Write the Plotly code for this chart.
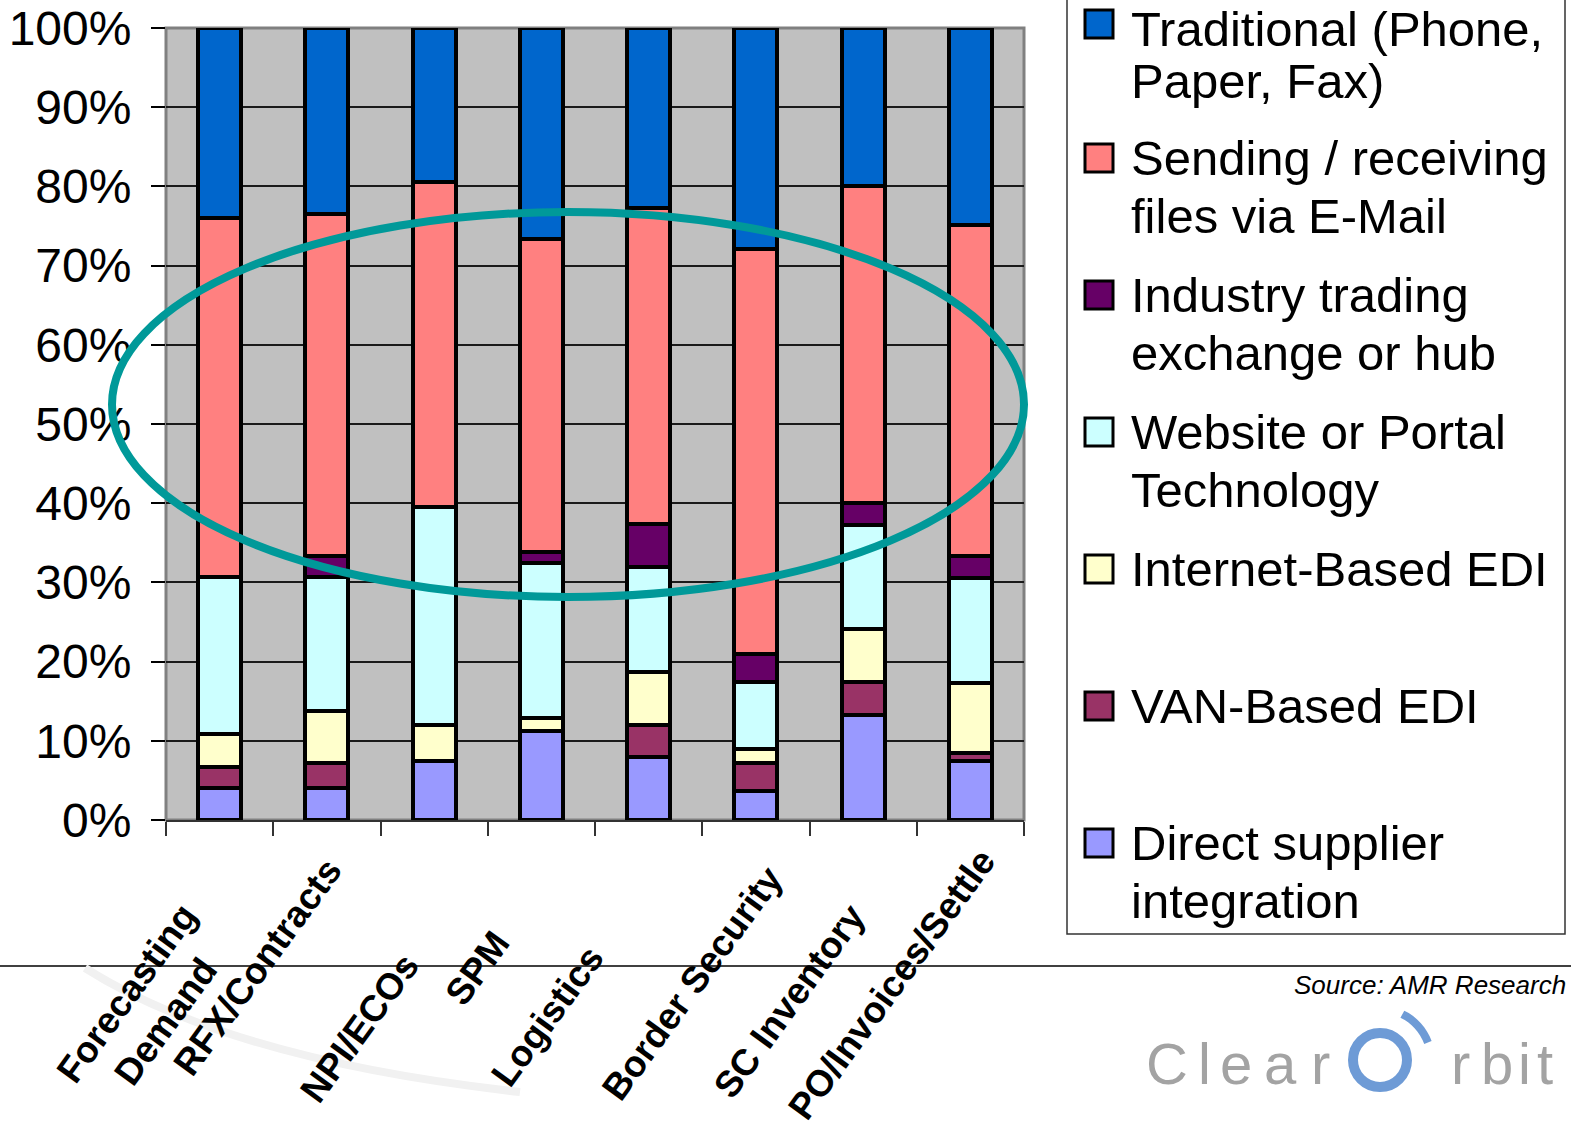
import math
import plotly.graph_objects as go

# ---------------- data ----------------
categories = ["Forecasting Demand", "RFX/Contracts", "NPI/ECOs", "SPM", "Logistics",
              "Border Security", "SC Inventory", "PO/Invoices/Settle"]
category_labels = ["Forecasting<br>Demand", "RFX/Contracts", "NPI/ECOs", "SPM", "Logistics",
                   "Border Security", "SC Inventory", "PO/Invoices/Settle"]

direct_supplier = [4.0, 4.0, 7.5, 11.2, 7.9, 3.6, 13.3, 7.5]
van_edi = [2.7, 3.2, 0.0, 0.0, 4.1, 3.6, 4.1, 0.9]
internet_edi = [4.1, 6.6, 4.5, 1.7, 6.7, 1.8, 6.7, 8.9]
website_portal = [19.9, 16.9, 27.5, 19.5, 13.3, 8.4, 13.2, 13.3]
industry_hub = [0.0, 2.6, 0.0, 1.5, 5.4, 3.6, 2.7, 2.7]
email_files = [45.3, 43.2, 41.0, 39.4, 39.9, 51.1, 40.0, 41.8]
traditional = [24.0, 23.5, 19.5, 26.7, 22.7, 27.9, 20.0, 24.9]

# legend order (top to bottom), each name split into its display lines
legend_lines = [
    ["Traditional (Phone,", "Paper, Fax)"],
    ["Sending / receiving", "files via E-Mail"],
    ["Industry trading", "exchange or hub"],
    ["Website or Portal", "Technology"],
    ["Internet-Based EDI"],
    ["VAN-Based EDI"],
    ["Direct supplier", "integration"],
]
legend_colors = ["#0066CC", "#FF8080", "#660066", "#CCFFFF", "#FFFFCC", "#993366", "#9999FF"]

y_tick_values = [0, 10, 20, 30, 40, 50, 60, 70, 80, 90, 100]
y_tick_labels = ["0%", "10%", "20%", "30%", "40%", "50%", "60%", "70%", "80%", "90%", "100%"]

source_text = "Source: AMR Research"
logo_letters = ["C", "l", "e", "a", "r", "r", "b", "i", "t"]

# ---------------- layout helpers ----------------
W, H = 1571, 1129
L, R, T, B = 166, 1024, 28, 820
FONT = "Liberation Sans, Arial, sans-serif"


def px(xp):
    return (xp - L) / (R - L)


def py(yp):
    return (B - yp) / (B - T)


# stacking order bottom -> top
stack = [
    (legend_lines[6], direct_supplier, legend_colors[6]),
    (legend_lines[5], van_edi, legend_colors[5]),
    (legend_lines[4], internet_edi, legend_colors[4]),
    (legend_lines[3], website_portal, legend_colors[3]),
    (legend_lines[2], industry_hub, legend_colors[2]),
    (legend_lines[1], email_files, legend_colors[1]),
    (legend_lines[0], traditional, legend_colors[0]),
]

fig = go.Figure()
for name_lines, vals, col in stack:
    fig.add_trace(go.Bar(
        x=categories, y=vals, name=" ".join(name_lines),
        marker=dict(color=col, line=dict(color="black", width=4)),
        width=0.40, showlegend=False,
    ))

shapes = []
annotations = []

# plot border (gray)
shapes.append(dict(type="rect", xref="paper", yref="paper", x0=0, x1=1, y0=0, y1=1,
                   line=dict(color="#808080", width=3), layer="below"))

# horizontal separator line across page
shapes.append(dict(type="line", xref="paper", yref="paper", x0=px(0), x1=px(W),
                   y0=py(966), y1=py(966), line=dict(color="#404040", width=2), layer="below"))

# faint watermark swoosh
shapes.append(dict(type="path", xref="paper", yref="paper",
                   path=f"M{px(85)},{py(968)} Q{px(230)},{py(1060)} {px(520)},{py(1092)}",
                   line=dict(color="#f1f1f1", width=8), layer="below"))

# teal ellipse highlight
shapes.append(dict(type="circle", xref="paper", yref="paper",
                   x0=px(112), x1=px(1024), y0=py(597), y1=py(212),
                   line=dict(color="#009999", width=8), layer="above"))

# legend box
shapes.append(dict(type="rect", xref="paper", yref="paper",
                   x0=px(1067), x1=px(1565), y0=py(934), y1=py(-10),
                   line=dict(color="#333333", width=1.5), fillcolor="white", layer="below"))

for i, (lines, col) in enumerate(zip(legend_lines, legend_colors)):
    cy = 21 + 137 * i
    my = cy + (3 if i == 0 else 0)
    shapes.append(dict(type="rect", xref="paper", yref="paper",
                       x0=px(1085), x1=px(1113), y0=py(my + 14), y1=py(my - 14),
                       line=dict(color="black", width=3), fillcolor=col, layer="above"))
    for j, ln in enumerate(lines):
        ty = cy + 58 * j
        if i == 0:
            ty = [29, 81][j]  # keep the topmost line fully inside the page
        annotations.append(dict(text=ln, xref="paper", yref="paper", x=px(1129), y=py(ty),
                                xanchor="left", yanchor="middle", showarrow=False,
                                font=dict(family=FONT, size=49, color="black")))

# category labels (rotated)
label_centers = [(146, 1007), (257, 967), (359, 1028), (477, 968), (547, 1016),
                 (692, 983), (789, 1001), (892, 985)]
for lab, (cx, cy) in zip(category_labels, label_centers):
    annotations.append(dict(text=f"<b>{lab}</b>", xref="paper", yref="paper", x=px(cx), y=py(cy),
                            xanchor="center", yanchor="middle", showarrow=False, textangle=-54,
                            align="center", font=dict(family=FONT, size=37, color="black")))

# source
annotations.append(dict(text=f"<i>{source_text}</i>", xref="paper", yref="paper", x=px(1568), y=py(985),
                        xanchor="right", yanchor="middle", showarrow=False,
                        font=dict(family=FONT, size=26, color="black")))

# logo letters
letter_x = [1167, 1204, 1236, 1280, 1320, 1460, 1497, 1524, 1545]
for ch, lx in zip(logo_letters, letter_x):
    annotations.append(dict(text=ch, xref="paper", yref="paper", x=px(lx), y=py(1063),
                            xanchor="center", yanchor="middle", showarrow=False,
                            font=dict(family=FONT, size=58, color="#a3a3a3")))
ring_cx, ring_cy, ring_r = 1380, 1060, 27
shapes.append(dict(type="circle", xref="paper", yref="paper",
                   x0=px(ring_cx - ring_r), x1=px(ring_cx + ring_r),
                   y0=py(ring_cy + ring_r), y1=py(ring_cy - ring_r),
                   line=dict(color="#6e9bd6", width=10)))
pts = []
for k in range(9):
    a = math.radians(-64 + k * 5.5)
    pts.append((ring_cx + 51 * math.cos(a), ring_cy + 51 * math.sin(a)))
path = "M" + " L".join(f"{px(x)},{py(y)}" for x, y in pts)
shapes.append(dict(type="path", xref="paper", yref="paper", path=path,
                   line=dict(color="#6e9bd6", width=8)))

fig.update_layout(
    width=W, height=H, autosize=False,
    margin=dict(l=L, r=W - R, t=T, b=H - B, pad=0, autoexpand=False),
    paper_bgcolor="white", plot_bgcolor="#C0C0C0",
    barmode="stack", showlegend=False,
    shapes=shapes, annotations=annotations,
    font=dict(family=FONT, color="black"),
    xaxis=dict(type="category", range=[-0.5, 7.5], tickson="boundaries", ticks="outside",
               ticklen=14, tickwidth=1.5, tickcolor="#333333", showticklabels=False,
               showline=True, linecolor="#333333", linewidth=2, showgrid=False, zeroline=False,
               automargin=False),
    yaxis=dict(range=[0, 100], tickvals=y_tick_values, ticktext=y_tick_labels,
               ticks="outside", ticklen=14, tickwidth=1.5, tickcolor="black",
               tickfont=dict(family=FONT, size=48, color="black"), ticklabelstandoff=10,
               showgrid=True, gridcolor="#1a1a1a", gridwidth=1.5, zeroline=False, showline=False,
               automargin=False),
)

fig.write_html("out.html")
